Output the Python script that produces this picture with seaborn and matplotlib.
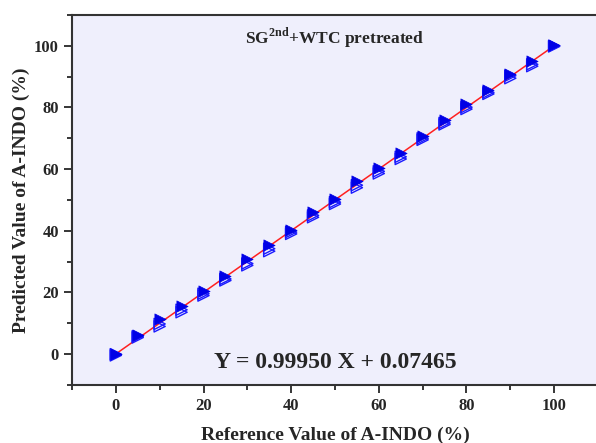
import numpy as np
import pandas as pd
import matplotlib
matplotlib.use("Agg")
import matplotlib.pyplot as plt
import seaborn as sns
from matplotlib.ticker import MultipleLocator

# reference concentrations (%)
reference = [0, 5, 10, 15, 20, 25, 30, 35, 40, 45, 50, 55, 60, 65, 70, 75, 80, 85, 90, 95, 100]
# predicted values
pred_filled = [0.2, 6.3, 11.3, 15.6, 20.6, 25.2, 30.8, 35.4, 40.3, 46.1, 50.2, 56.3, 60.3, 65.1, 70.9,
               75.9, 81.0, 85.8, 91.0, 95.0, 100.2]
pred_open1 = [-0.4, 5.4, 9.0, 13.6, 19.0, 23.9, 28.8, 33.4, 39.0, 44.4, 48.7, 54.0, 58.6, 63.3, 69.5,
              74.5, 79.5, 84.4, 89.5, 93.4, 99.8]
pred_open2 = [0.0, 5.8, 9.8, 14.4, 19.6, 24.4, 29.4, 34.2, 39.6, 45.0, 49.3, 54.8, 59.3, 64.0, 70.0,
              75.0, 80.1, 84.9, 90.3, 94.0, 100.0]

slope = 0.99950
intercept = 0.07465
fit_x = [0, 100]

df = pd.DataFrame({"ref": reference, "filled": pred_filled, "open1": pred_open1, "open2": pred_open2})

sns.set_style("ticks")
plt.rcParams["font.family"] = ["Liberation Serif", "DejaVu Serif"]
plt.rcParams["mathtext.fontset"] = "custom"
plt.rcParams["mathtext.rm"] = "Liberation Serif"
plt.rcParams["mathtext.bf"] = "Liberation Serif:bold"

fig = plt.figure(figsize=(5.96, 4.43), dpi=100)
ax = fig.add_axes([72 / 596, 1 - 385 / 443, 526 / 596, 370 / 443])
ax.set_facecolor("#efeffc")

# fitted regression line
fit_y = [slope * v + intercept for v in fit_x]
sns.lineplot(x=fit_x, y=fit_y, ax=ax, color="#ff2020", lw=1.1, zorder=2)

sns.scatterplot(data=df, x="ref", y="open1", ax=ax, marker=">", s=65,
                facecolor="none", edgecolor="#1a1aff", linewidth=1.0, zorder=3)
sns.scatterplot(data=df, x="ref", y="open2", ax=ax, marker=">", s=65,
                facecolor="none", edgecolor="#1a1aff", linewidth=1.0, zorder=3)
sns.scatterplot(data=df, x="ref", y="filled", ax=ax, marker=">", s=65,
                color="#0000e6", edgecolor="#0000e6", linewidth=0.5, zorder=4)

ax.set_xlim(-10, 110)
ax.set_ylim(-10, 110)
ax.xaxis.set_major_locator(MultipleLocator(20))
ax.yaxis.set_major_locator(MultipleLocator(20))
ax.xaxis.set_minor_locator(MultipleLocator(10))
ax.yaxis.set_minor_locator(MultipleLocator(10))
ax.tick_params(which="major", direction="out", length=6, width=1.3, labelsize=12)
ax.tick_params(which="minor", direction="out", length=3.5, width=1.3)
ax.tick_params(top=False, right=False)
for lbl in ax.get_xticklabels() + ax.get_yticklabels():
    lbl.set_fontweight("bold")
for sp in ax.spines.values():
    sp.set_linewidth(1.5)
    sp.set_color("#333333")

ax.set_xlabel("Reference Value of A-INDO (%)", fontsize=14, fontweight="bold", labelpad=9)
ax.set_ylabel("Predicted Value of A-INDO (%)", fontsize=14, fontweight="bold", labelpad=3)

ax.text(0.5, 0.94, r"SG$^{\mathbf{2nd}}$+WTC pretreated", transform=ax.transAxes,
        ha="center", va="center", fontsize=12.5, fontweight="bold")
ax.text(0.5, 0.06, "Y = 0.99950 X + 0.07465", transform=ax.transAxes,
        ha="center", va="center", fontsize=17, fontweight="bold")

fig.savefig("out.png", dpi=100)
